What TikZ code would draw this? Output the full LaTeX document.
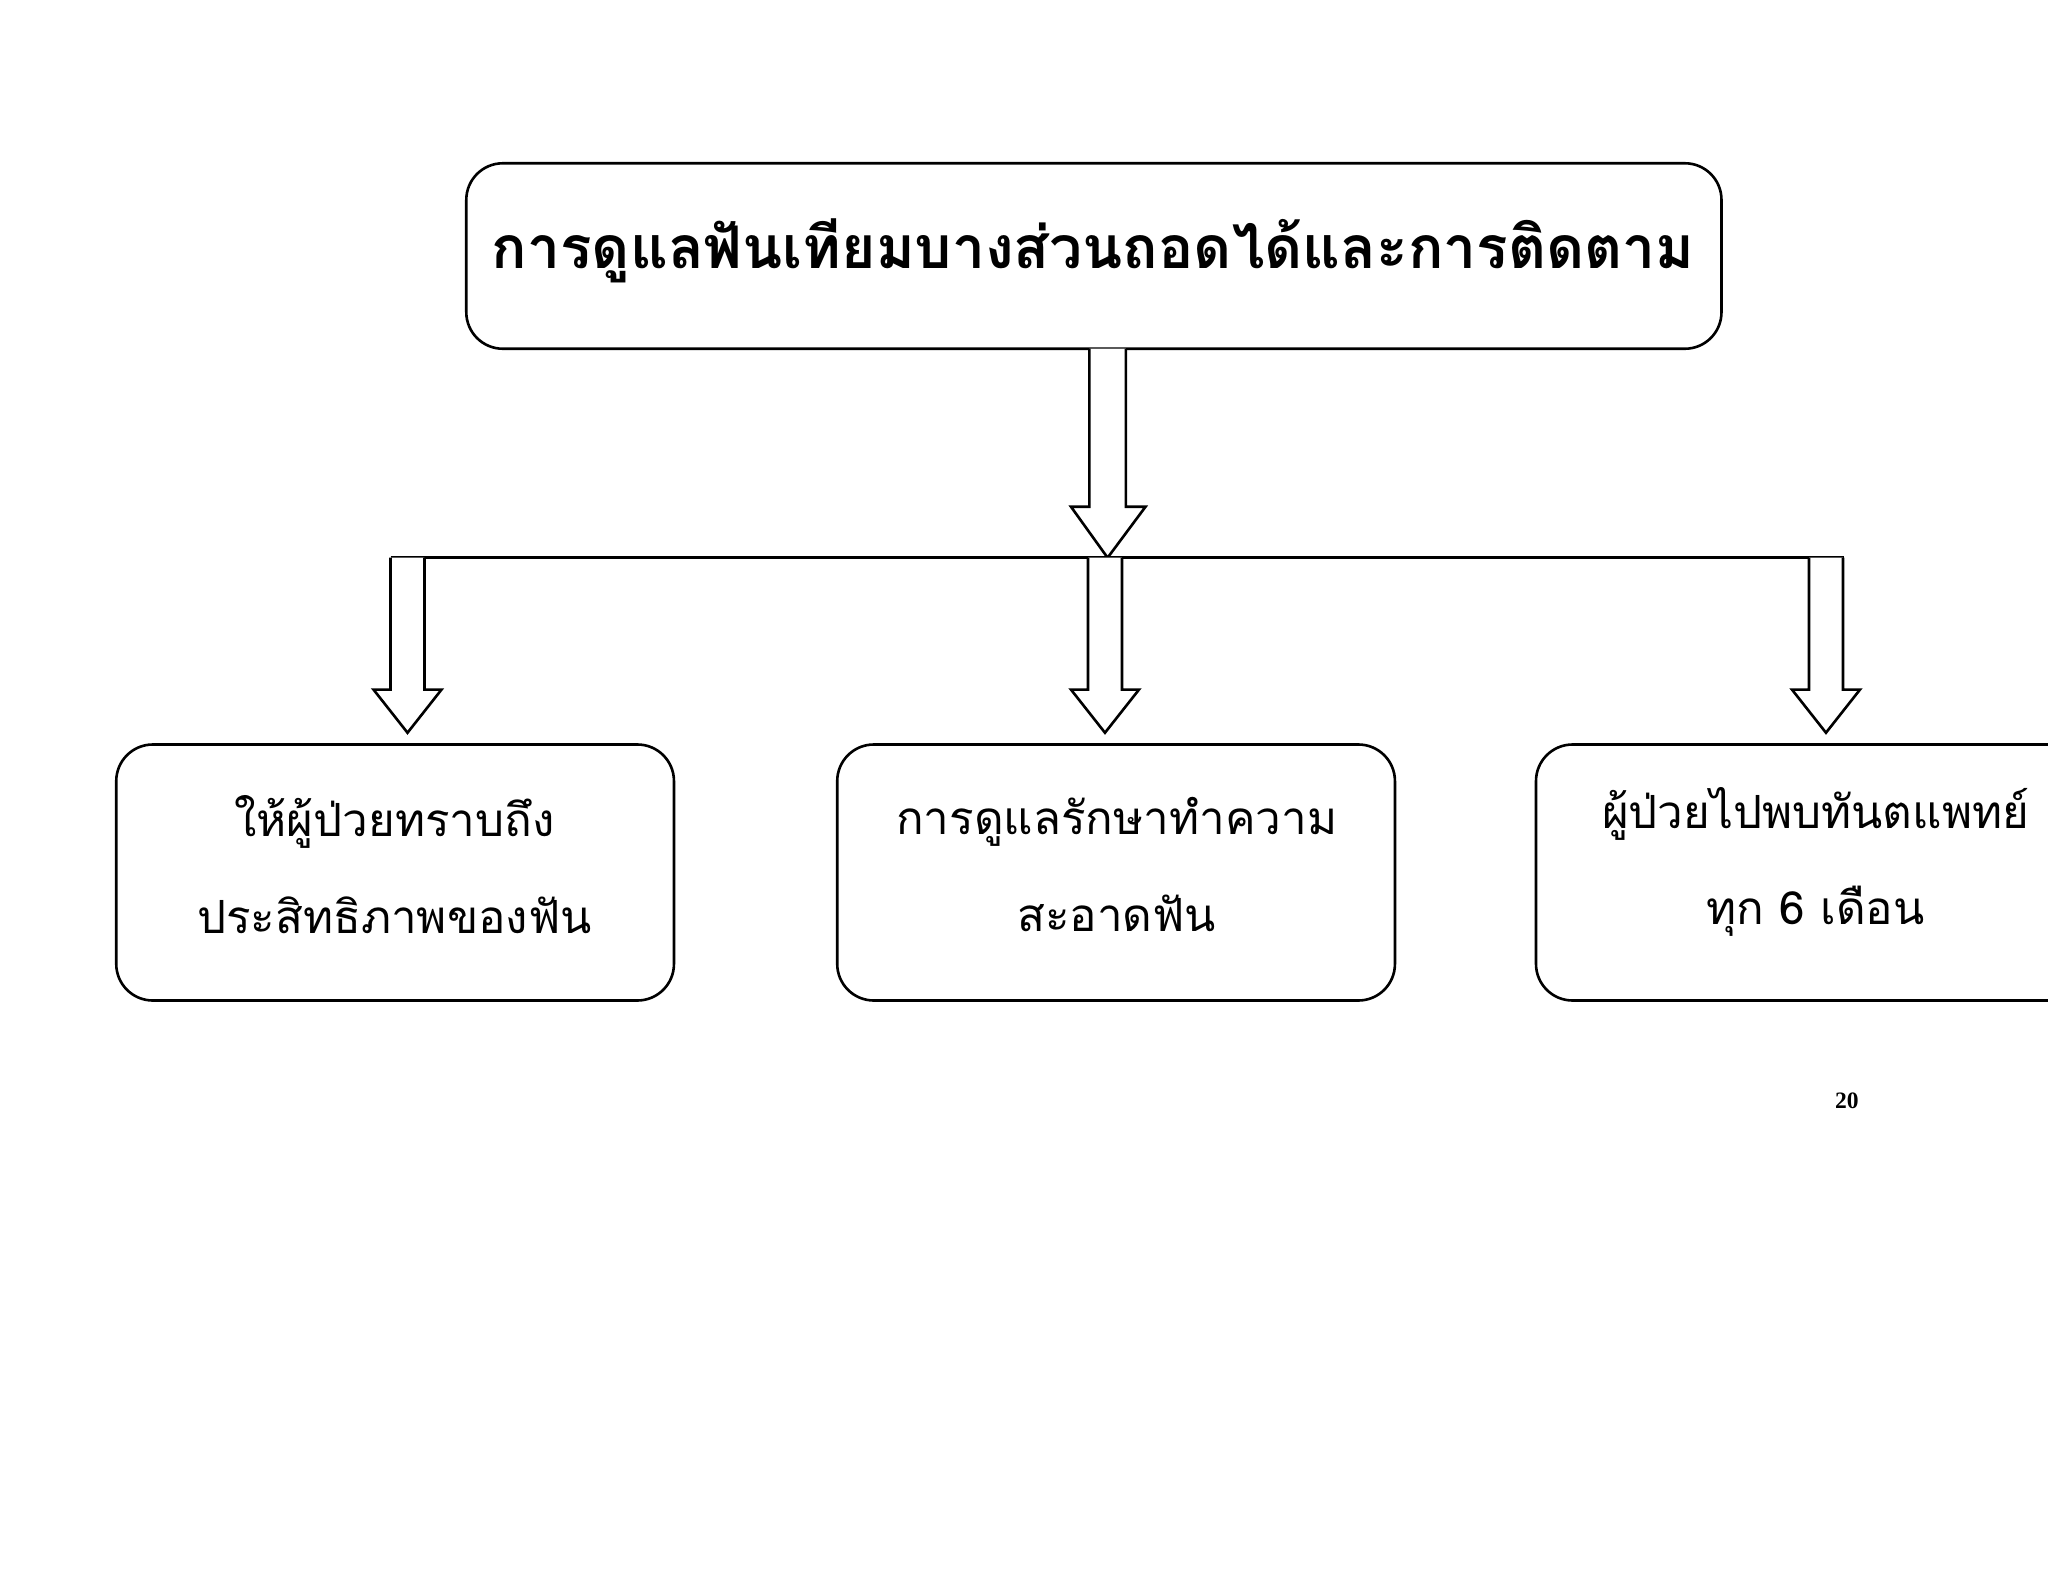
\documentclass[tikz,border=0pt]{standalone}
\usepackage{fontspec}
\newfontfamily\thaifont[Script=Thai]{Loma}
\setmainfont{Liberation Serif}
\begin{document}
\begin{tikzpicture}[x=0.5pt,y=-0.5pt,
  box/.style={draw,line width=1pt,rounded corners=14pt,inner sep=0pt},
  harrow/.style={draw,line width=1pt,fill=white,line join=miter},
  btext/.style={align=center,font=\thaifont\fontsize{17.5}{37}\selectfont}]
\useasboundingbox (0,0) rectangle (1568,1211);
\clip (0,0) rectangle (1568,1211);
\fill[white] (0,0) rectangle (1568,1211);
\draw[box] (357,125) rectangle (1318,267);
\node (top) at (837,192) {\thaifont\bfseries\fontsize{22.5}{26}\selectfont การดูแลฟันเทียมบางส่วนถอดได้และการติดตาม};
% big arrow
\draw[harrow] (834,267) -- (834,388) -- (820,388) -- (848,427) -- (877,388) -- (862,388) -- (862,267);
\draw[line width=1pt] (299,427) -- (1412,427);
% small arrows
\foreach \x in {299,833,1385}{
  \draw[harrow] (\x,427) -- (\x,528) -- (\x-13,528) -- (\x+13,561) -- (\x+39,528) -- (\x+26,528) -- (\x+26,427);
}
\draw[box] (89,570) rectangle (516,766);
\draw[box] (641,570) rectangle (1068,766);
\draw[box] (1176,570) rectangle (1620,766);
\node[btext] (b1) at (302,662) {ให้ผู้ป่วยทราบถึง\\ประสิทธิภาพของฟัน};
\node[btext] (b2) at (855,662) {การดูแลรักษาทำความ\\สะอาดฟัน};
\node[btext] (b3) at (1390,660) {ผู้ป่วยไปพบทันตแพทย์\\ทุก 6 เดือน};
\node[font=\bfseries\fontsize{9}{10}\selectfont] (pg) at (1414,843) {20};
\end{tikzpicture}
\end{document}
